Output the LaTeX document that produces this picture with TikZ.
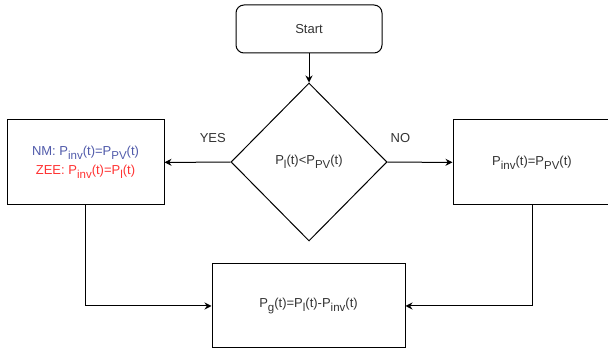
\documentclass[tikz,border=0pt]{standalone}
\usepackage{fontspec}
\setmainfont{Liberation Sans}
\usetikzlibrary{arrows.meta,shapes}
\definecolor{txtgray}{RGB}{51,51,51}
\definecolor{nmblue}{RGB}{80,90,170}
\definecolor{zeered}{RGB}{255,51,51}
\tikzstyle{bx} = [rectangle, draw, line width=1pt, text=txtgray,
    font=\fontsize{13}{16}\selectfont, align=center, inner sep=0pt]
\tikzstyle{lbl} = [text=txtgray, font=\fontsize{13}{16}\selectfont]
\newcommand{\sbs}[1]{\raisebox{-4pt}{\fontsize{11.5}{13}\selectfont #1}}

\begin{document}
\begin{tikzpicture}[x=1pt,y=-1pt,line width=1pt,>={Stealth[length=7pt,width=7pt]}]
  \useasboundingbox (0,0) rectangle (608,352);
  \node[bx,rounded corners=8pt,minimum width=146pt,minimum height=48pt] (start) at (309,29) {Start};
  \node[bx,diamond,minimum width=156pt,minimum height=158pt] (cmp) at (309,162) {P\sbs{l}(t)<P\sbs{PV}(t)};
  \node[bx,minimum width=157pt,minimum height=85pt] (zee) at (85.5,162.5)
    {\textcolor{nmblue}{NM: P\sbs{inv}(t)=P\sbs{PV}(t)}\\[3pt]\textcolor{zeered}{ZEE: P\sbs{inv}(t)=P\sbs{l}(t)}};
  \node[bx,minimum width=158pt,minimum height=85pt] (pv) at (532,162.5) {P\sbs{inv}(t)=P\sbs{PV}(t)};
  \node[bx,minimum width=193pt,minimum height=84pt] (grid) at (308.5,306) {P\sbs{g}(t)=P\sbs{l}(t)-P\sbs{inv}(t)};

  \path[->] (start) edge node {} (cmp);
  \path[->] (cmp) edge node[lbl,pos=0.27,above=16pt] {YES} (zee);
  \path[->] (cmp) edge node[lbl,pos=0.2,above=16pt] {NO} (pv);
  \draw[->] (zee.south) |- (grid.west);
  \draw[->] (pv.south) |- (grid.east);
\end{tikzpicture}
\end{document}
